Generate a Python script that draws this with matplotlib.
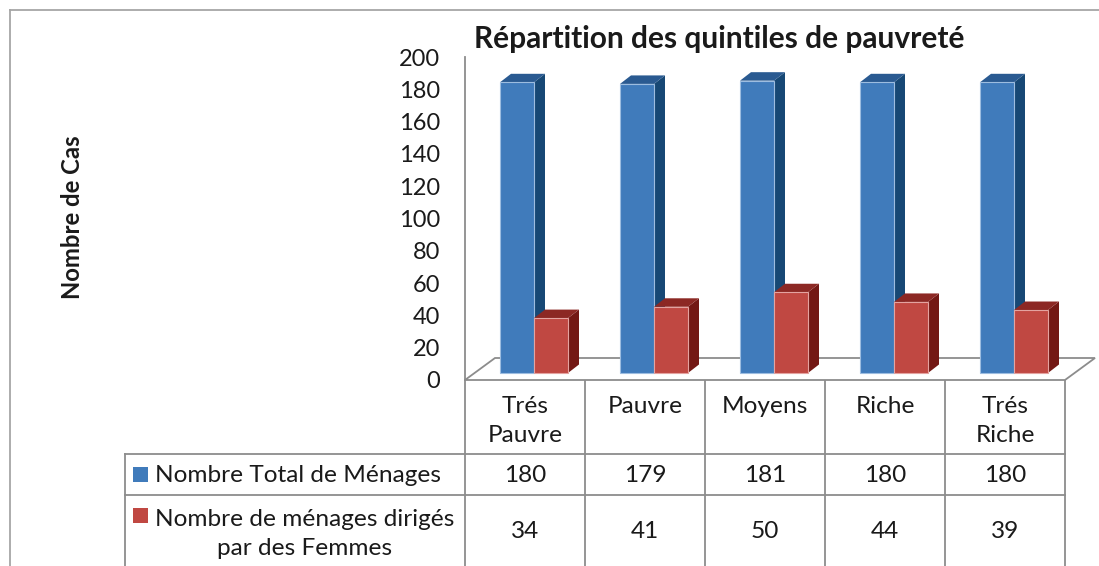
import matplotlib
matplotlib.use("Agg")
import matplotlib.pyplot as plt
import matplotlib.transforms as mtransforms
from matplotlib.patches import Polygon, Rectangle

plt.rcParams['font.family'] = ['Lato', 'DejaVu Sans']

# ---- data ----
categories = ["Trés\nPauvre", "Pauvre", "Moyens", "Riche", "Trés\nRiche"]
series_names = ["Nombre Total de Ménages", "Nombre de ménages dirigés\npar des Femmes"]
total_menages = [180, 179, 181, 180, 180]
menages_femmes = [34, 41, 50, 44, 39]
yticks = [0, 20, 40, 60, 80, 100, 120, 140, 160, 180, 200]
title = "Répartition des quintiles de pauvreté"
ylabel = "Nombre de Cas"

# ---- style ----
front_cols = ["#407bbb", "#c04842"]
side_cols = ["#174875", "#731814"]
top_cols = ["#2a5a91", "#8c2824"]
edge_cols = ["#9dbde0", "#e4a3a0"]
grid_col = "#8c8c8c"
txt_col = "#1a1a1a"
FS = 17
TFS = 17.6

W, H = 1099, 566
fig = plt.figure(figsize=(W / 100, H / 100), dpi=100)

# overlay axes in pixel coordinates (layout)
oax = fig.add_axes([0, 0, 1, 1], zorder=0)
oax.set_xlim(0, W)
oax.set_ylim(H, 0)
oax.axis('off')

# chart axes: x = category index, y = value
ax_l, ax_r, ax_t, ax_b = 465, 1065, 57, 380
ax = fig.add_axes([ax_l / W, (H - ax_b) / H, (ax_r - ax_l) / W, (ax_b - ax_t) / H], zorder=1)
ax.patch.set_visible(False)
ax.set_xlim(0, len(categories))
ax.set_ylim(0, 200)
ax.set_yticks(yticks)
ax.set_yticklabels([str(t) for t in yticks], fontsize=FS, color=txt_col)
ax.tick_params(axis='y', length=0, pad=18)
ax.set_xticks([])
for s in ['top', 'right', 'bottom']:
    ax.spines[s].set_visible(False)
ax.spines['left'].set_color(grid_col)
ax.spines['left'].set_linewidth(1.3)

# 3D geometry (in data units)
px_x = (ax_r - ax_l) / len(categories)   # px per category
px_y = (ax_b - ax_t) / 200.0             # px per value unit
floor_dx, floor_dy = 30 / px_x, 22 / px_y
bar_dx, bar_dy = 11 / px_x, 8.5 / px_y
base = 7 / px_y
off0 = 35 / px_x
bw = 34 / px_x

# floor
floor = Polygon([(0, 0), (len(categories), 0),
                 (len(categories) + floor_dx, floor_dy), (floor_dx, floor_dy)],
                closed=True, facecolor="white", edgecolor=grid_col, lw=1.3,
                clip_on=False, zorder=1)
ax.add_patch(floor)

series = [total_menages, menages_femmes]
for i in range(len(categories)):
    for k, vals in enumerate(series):
        x0 = i + off0 + k * bw
        v = vals[i]
        top_y = base + v
        side = Polygon([(x0 + bw, base), (x0 + bw + bar_dx, base + bar_dy),
                        (x0 + bw + bar_dx, top_y + bar_dy), (x0 + bw, top_y)],
                       closed=True, facecolor=side_cols[k], edgecolor='none',
                       clip_on=False, zorder=2 + k * 3)
        top = Polygon([(x0, top_y), (x0 + bw, top_y),
                       (x0 + bw + bar_dx, top_y + bar_dy), (x0 + bar_dx, top_y + bar_dy)],
                      closed=True, facecolor=top_cols[k], edgecolor='none',
                      clip_on=False, zorder=3 + k * 3)
        ax.add_patch(side)
        ax.add_patch(top)
        ax.bar(x0, v, width=bw, bottom=base, align='edge', color=front_cols[k],
               edgecolor=edge_cols[k], linewidth=0.8, zorder=4 + k * 3, clip_on=False)

# title and y label
oax.text(719, 39, title, fontsize=21.5, fontweight='bold', color=txt_col,
         ha='center', va='center')
oax.text(72, 217, ylabel, fontsize=17.2, fontweight='bold', color=txt_col,
         rotation=90, ha='center', va='center')

# outer border
oax.plot([10, 10], [H + 5, 10], color="#a6a6a6", lw=1.3, clip_on=False)
oax.plot([10, W + 5], [10, 10], color="#a6a6a6", lw=1.3, clip_on=False)

# ---- data table ----
bt = mtransforms.blended_transform_factory(ax.transData, oax.transData)
row1_y, row2_y, tbl_bot = 454, 495, H + 5
lkw = dict(color=grid_col, lw=1.3, clip_on=False)
# vertical column lines
for i in range(len(categories) + 1):
    oax.plot([i, i], [ax_b, tbl_bot], transform=bt, **lkw)
oax.plot([125, 125], [row1_y, tbl_bot], **lkw)
# horizontal lines
oax.plot([125, ax_r], [row1_y, row1_y], **lkw)
oax.plot([125, ax_r], [row2_y, row2_y], **lkw)

# headers
for i, c in enumerate(categories):
    oax.text(i + 0.5, 396, c, transform=bt, fontsize=TFS, color=txt_col,
             ha='center', va='top', linespacing=1.5)
# values
for i in range(len(categories)):
    oax.text(i + 0.5, 475, str(total_menages[i]), transform=bt, fontsize=TFS,
             color=txt_col, ha='center', va='center')
    oax.text(i + 0.5, 532, str(menages_femmes[i]), transform=bt, fontsize=TFS,
             color=txt_col, ha='center', va='center')

# legend keys + row labels
oax.add_patch(Rectangle((133, 467), 15, 15, facecolor=front_cols[0], edgecolor='none'))
oax.add_patch(Rectangle((133, 508), 15, 15, facecolor=front_cols[1], edgecolor='none'))
oax.text(155, 475, series_names[0], fontsize=TFS, color=txt_col, ha='left', va='center')
oax.text(155, 534, series_names[1], fontsize=TFS, color=txt_col, ha='left', va='center',
         multialignment='center', linespacing=1.5)

fig.savefig("out.png", dpi=100)
